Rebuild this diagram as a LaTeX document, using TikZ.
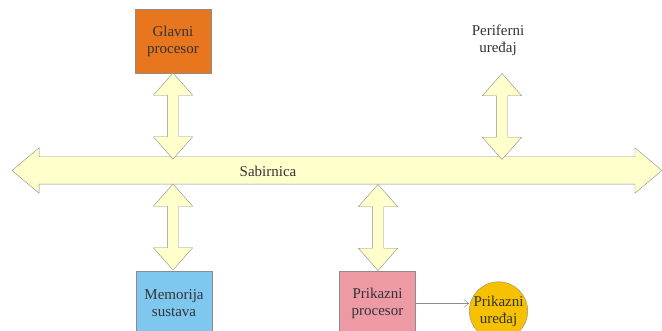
\documentclass[tikz,border=0pt]{standalone}
\usepackage{fontspec}
\setmainfont{Liberation Serif}
\usetikzlibrary{shapes.arrows, shapes.geometric, arrows.meta, positioning}

\definecolor{busfill}{HTML}{FFFFCC}
\definecolor{glavnifill}{HTML}{E8761E}
\definecolor{memfill}{HTML}{7EC8F0}
\definecolor{prikfill}{HTML}{EE9AA5}
\definecolor{uredfill}{HTML}{F6C100}
\definecolor{edge}{HTML}{8C8C8C}
\definecolor{txt}{HTML}{333333}

\begin{document}
\begin{tikzpicture}[
  x=1pt, y=-1pt,
  box/.style={rectangle, draw=edge, minimum width=76pt, minimum height=64pt, align=center, text=txt, font=\fontsize{15}{17}\selectfont, inner sep=0pt},
  device/.style={circle, draw=edge, fill=uredfill, minimum size=58pt, align=center, text=txt, font=\fontsize{15}{17}\selectfont, inner sep=0pt},
  label_text/.style={align=center, text=txt, font=\fontsize{15}{17}\selectfont},
  bus/.style={double arrow, draw=edge, fill=busfill, inner xsep=0pt, inner ysep=13.5pt, text height=0pt, text depth=0pt, double arrow head extend=9pt, double arrow tip angle=80, minimum height=650pt},
  buslink/.style={double arrow, draw=edge, fill=busfill, rotate=90, inner xsep=0pt, inner ysep=5.5pt, text height=0pt, text depth=0pt, double arrow head extend=14pt, double arrow tip angle=83, minimum height=86pt},
  arrow/.style={draw=edge, thin, -{Straight Barb[length=5pt, width=8pt]}}
]
\useasboundingbox (0,0) rectangle (662,331);

% Bus across the middle
\node (sabirnica) [bus] at (337,170.5) {};
\node (sabtext) [label_text] at (268,171) {Sabirnica};

% Units above and below the bus
\node (glavni) [box, fill=glavnifill] at (173,41) {Glavni\\procesor};
\node (periferni) [label_text] at (498,40) {Periferni\\uređaj};
\node (memorija) [box, fill=memfill] at (174,303) {Memorija\\sustava};
\node (prikproc) [box, fill=prikfill] at (377.5,303.5) {Prikazni\\procesor};
\node (prikured) [device] at (498.5,311) {Prikazni\\uređaj};

% Links to the bus
\node (l_glavni) [buslink] at (173,116) {};
\node (l_periferni) [buslink] at (502,116.5) {};
\node (l_memorija) [buslink] at (173,227) {};
\node (l_prikproc) [buslink] at (378,227.5) {};

\draw [arrow] (prikproc.east) -- (prikproc.east -| prikured.west);

\end{tikzpicture}
\end{document}
